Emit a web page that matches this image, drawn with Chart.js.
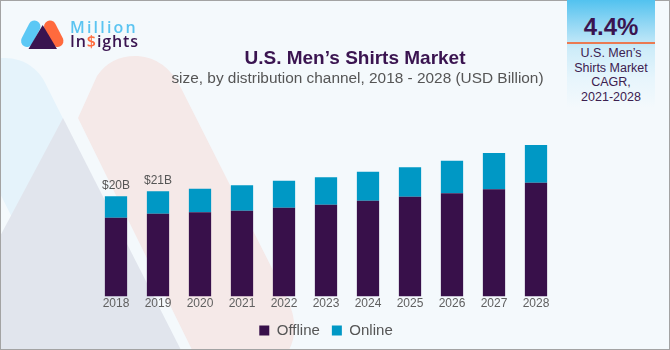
<!DOCTYPE html>
<html>
<head>
<meta charset="utf-8">
<script src="https://cdn.jsdelivr.net/npm/chart.js@4"></script>
<style>
  html,body{margin:0;padding:0;background:#f4f9fc;}
  #wrap{position:relative;width:670px;height:350px;overflow:hidden;font-family:"Liberation Sans",Arial,sans-serif;}
  #c{position:absolute;left:0;top:0;}
  .abs{position:absolute;white-space:nowrap;}
  #title{left:0;width:710px;top:48px;text-align:center;font-weight:bold;font-size:19px;line-height:19px;color:#3a1450;}
  #subtitle{left:0;width:715px;top:70px;text-align:center;font-size:15.4px;line-height:15.4px;color:#555;}
  #cagr{left:567px;top:0;width:88px;height:108px;background:linear-gradient(to bottom,#52c2ef 0%,#92d7f4 22%,#cdecf9 45%,#e6f5fc 72%,#f4f9fc 100%);}
  #cagrline{position:absolute;left:0;top:42px;width:88px;height:2px;background:#ea7a52;}
  #cagrval{position:absolute;left:0;width:88px;top:15px;text-align:center;font-weight:bold;font-size:24px;line-height:24px;color:#3a1450;}
  #cagrtxt{position:absolute;left:0;width:88px;top:46px;text-align:center;font-size:12.5px;line-height:14.5px;color:#3c2050;}
  #logo1{left:70px;top:19px;font-family:"Open Sans",sans-serif;font-weight:600;font-size:16px;line-height:16px;letter-spacing:2.2px;color:#5bc4f1;}
  #logo2{left:70px;top:33px;font-family:"Open Sans",sans-serif;font-weight:600;font-size:16px;line-height:16px;letter-spacing:0.9px;color:#3a1450;}
  #logo2 span{color:#ff6b3d;}
</style>
</head>
<body>
<div id="wrap">
  <canvas id="c" width="670" height="350"></canvas>
  <svg class="abs" style="left:0;top:0" width="70" height="56" viewBox="0 0 70 56">
    <line x1="27" y1="41" x2="34.5" y2="26.5" stroke="#5bc8f5" stroke-width="12" stroke-linecap="round"/>
    <line x1="50" y1="26.5" x2="57.5" y2="41" stroke="#ff6a3d" stroke-width="12" stroke-linecap="round"/>
    <polygon points="42.7,25 28.5,49 57,49" fill="#3a1450"/>
  </svg>
  <div id="logo1" class="abs">Million</div>
  <div id="logo2" class="abs">In<span>$</span>ights</div>
  <div id="title" class="abs">U.S. Men’s Shirts Market</div>
  <div id="subtitle" class="abs">size, by distribution channel, 2018 - 2028 (USD Billion)</div>
  <div id="cagr" class="abs">
    <div id="cagrval">4.4%</div>
    <div id="cagrline"></div>
    <div id="cagrtxt">U.S. Men’s<br>Shirts Market<br>CAGR,<br>2021-2028</div>
  </div>
</div>
<script>
// ---- data ----
const years = ['2018','2019','2020','2021','2022','2023','2024','2025','2026','2027','2028'];
const offline = [15.7, 16.5, 16.8, 17.1, 17.7, 18.3, 19.1, 19.9, 20.6, 21.4, 22.7];
const online  = [4.3, 4.5, 4.7, 5.1, 5.4, 5.5, 5.8, 5.9, 6.5, 7.2, 7.5];
const totalLabels = ['$20B', '$21B', '', '', '', '', '', '', '', '', ''];
const seriesNames = ['Offline', 'Online'];

const bgPlugin = {
  id: 'bg',
  beforeDraw(chart) {
    const ctx = chart.ctx;
    ctx.save();
    ctx.fillStyle = '#f4f9fc';
    ctx.fillRect(0, 0, 670, 350);
    // faded blue band (clipped to the left of the apex)
    ctx.save();
    ctx.beginPath();
    ctx.moveTo(-5, -5); ctx.lineTo(120, -5); ctx.lineTo(63, 119); ctx.lineTo(0, 240); ctx.lineTo(-5, 240);
    ctx.closePath(); ctx.clip();
    ctx.lineCap = 'round';
    ctx.strokeStyle = '#e5f3fb';
    ctx.lineWidth = 90;
    ctx.beginPath(); ctx.moveTo(5, 103); ctx.lineTo(110, 313); ctx.stroke();
    ctx.restore();
    // faded grey triangle
    ctx.fillStyle = '#e1e5ed';
    ctx.beginPath();
    ctx.moveTo(63, 118); ctx.lineTo(182, 352); ctx.lineTo(-2, 352); ctx.lineTo(-2, 240);
    ctx.closePath(); ctx.fill();
    // faded pink band
    ctx.fillStyle = '#f5e9e8';
    ctx.beginPath();
    ctx.moveTo(78, 118);
    ctx.lineTo(97, 76);
    ctx.quadraticCurveTo(111, 55, 138, 56);
    ctx.quadraticCurveTo(166, 58, 181, 88);
    ctx.lineTo(287, 298);
    ctx.quadraticCurveTo(304, 335, 282, 360);
    ctx.lineTo(197, 360);
    ctx.closePath();
    ctx.fill();
    ctx.restore();
    // frame border
    ctx.save();
    ctx.strokeStyle = '#a3a3a3';
    ctx.lineWidth = 1;
    ctx.strokeRect(0.5, 0.5, 669, 349);
    ctx.restore();
  }
};

const totalLabelPlugin = {
  id: 'totals',
  afterDatasetsDraw(chart) {
    const meta = chart.getDatasetMeta(1);
    const ctx = chart.ctx;
    ctx.save();
    ctx.font = '12px "Liberation Sans", Arial, sans-serif';
    ctx.fillStyle = '#555';
    ctx.textAlign = 'center';
    ctx.textBaseline = 'alphabetic';
    meta.data.forEach((el, i) => {
      if (totalLabels[i]) ctx.fillText(totalLabels[i], el.x, el.y - 7);
    });
    ctx.restore();
  }
};

new Chart(document.getElementById('c'), {
  type: 'bar',
  data: {
    labels: years,
    datasets: [
      { label: seriesNames[0], data: offline, backgroundColor: '#38104a', borderWidth: 0 },
      { label: seriesNames[1], data: online, backgroundColor: '#0098c5', borderWidth: 0 }
    ]
  },
  options: {
    responsive: false,
    animation: false,
    devicePixelRatio: 1,
    layout: { padding: { left: 95, right: 113, top: 121, bottom: 2 } },
    datasets: { bar: { categoryPercentage: 1.0, barPercentage: 0.53 } },
    scales: {
      x: {
        stacked: true,
        grid: { display: false, drawTicks: false },
        border: { display: false },
        ticks: { color: '#606060', padding: 0, font: { size: 12, family: '"Liberation Sans", Arial, sans-serif' } }
      },
      y: { stacked: true, display: false, min: 0, max: 35 }
    },
    plugins: {
      legend: {
        position: 'bottom',
        labels: {
          boxWidth: 10, boxHeight: 10, padding: 12, color: '#555',
          font: { size: 15, family: '"Liberation Sans", Arial, sans-serif' }
        }
      },
      tooltip: { enabled: false }
    }
  },
  plugins: [bgPlugin, totalLabelPlugin]
});
</script>
</body>
</html>
